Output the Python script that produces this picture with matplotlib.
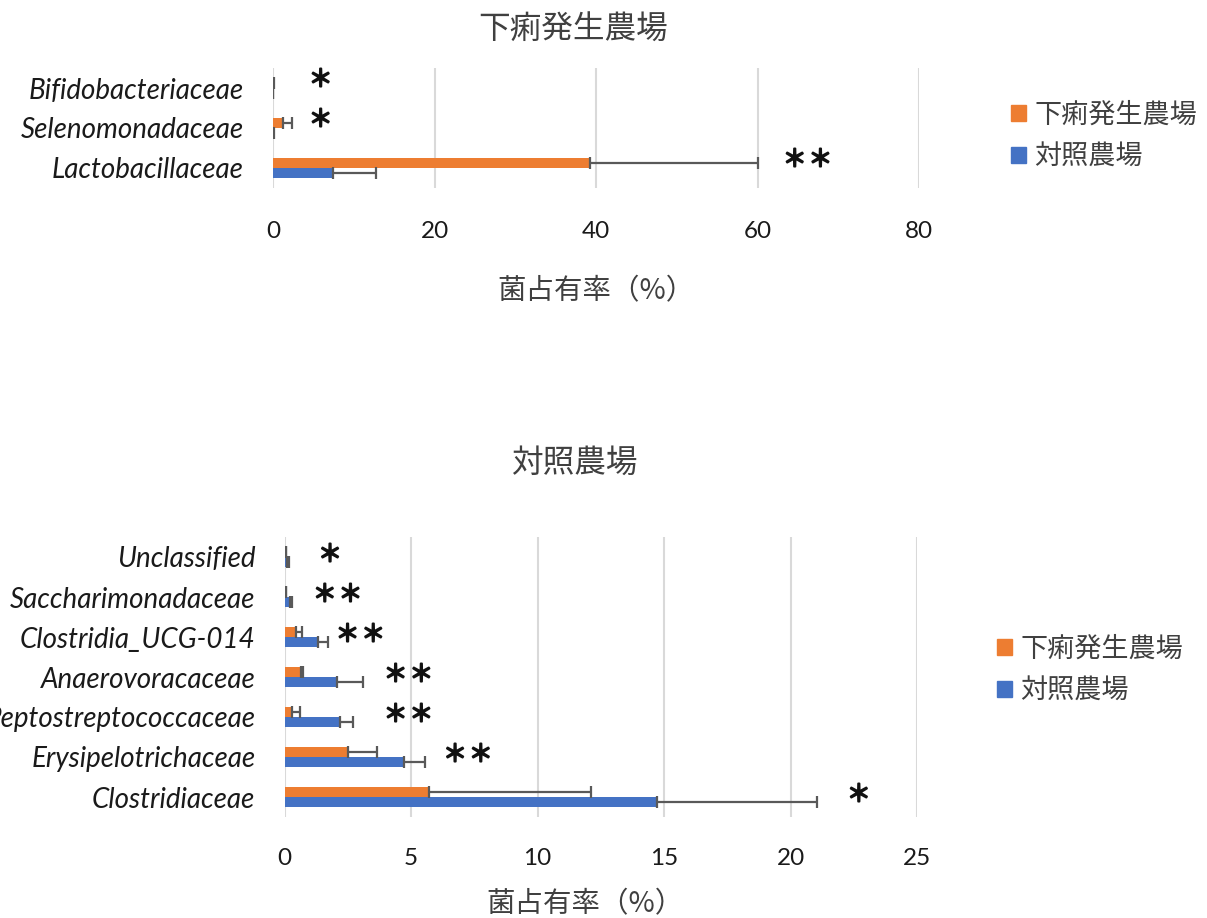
import matplotlib
matplotlib.use("Agg")
import matplotlib.pyplot as plt
import matplotlib.patheffects as pe
from matplotlib.patches import Patch
from matplotlib.transforms import offset_copy
import numpy as np

plt.rcParams['font.family'] = ['Noto Sans CJK JP', 'DejaVu Sans']

# ---- data ----
diarrhea_label = "下痢発生農場"
control_label = "対照農場"
xlabel = "菌占有率（%）"

top_cats = ["Lactobacillaceae", "Selenomonadaceae", "Bifidobacteriaceae"]
top_diarrhea = [39.3, 1.2, 0.05]
top_diarrhea_err = [20.8, 1.2, 0.05]
top_control = [7.4, 0.05, 0.02]
top_control_err = [5.4, 0.02, 0.01]
top_sig = ["**", "*", "*"]
top_sig_x = [66.2, 5.9, 5.9]
top_ticks = [0, 20, 40, 60, 80]

bot_cats = ["Clostridiaceae", "Erysipelotrichaceae", "Peptostreptococcaceae",
            "Anaerovoracaceae", "Clostridia_UCG-014", "Saccharimonadaceae",
            "Unclassified"]
bot_diarrhea = [5.7, 2.5, 0.29, 0.67, 0.45, 0.04, 0.04]
bot_diarrhea_err = [6.4, 1.16, 0.31, 0.05, 0.23, 0.03, 0.02]
bot_control = [14.73, 4.72, 2.18, 2.07, 1.34, 0.22, 0.1]
bot_control_err = [6.32, 0.84, 0.53, 1.03, 0.39, 0.08, 0.06]
bot_sig = ["*", "**", "**", "**", "**", "**", "*"]
bot_sig_x = [22.7, 7.25, 4.9, 4.9, 3.0, 2.1, 1.8]
bot_ticks = [0, 5, 10, 15, 20, 25]

ORANGE = "#ED7D31"
BLUE = "#4472C4"
GRID = "#D9D9D9"
ERR = "#595959"
TXT = "#404040"
INK = "#1a1a1a"

W, H = 1207, 918
fig = plt.figure(figsize=(W / 100, H / 100), dpi=100)


def px_axes(left, top, right, bottom):
    return fig.add_axes([left / W, 1 - bottom / H, (right - left) / W, (bottom - top) / H])


def draw_panel(ax, cats, dia, dia_err, ctl, ctl_err, sig, sig_x, ticks, sig_dy,
               label_xy, tick_pad):
    y = np.arange(len(cats))
    h = 0.25
    ek = dict(ecolor=ERR, elinewidth=1.6, capsize=4, capthick=1.6)
    ax.barh(y + h / 2, dia, height=h, color=ORANGE, zorder=2,
            xerr=[np.zeros(len(cats)), dia_err], error_kw=ek)
    ax.barh(y - h / 2, ctl, height=h, color=BLUE, zorder=2,
            xerr=[np.zeros(len(cats)), ctl_err], error_kw=ek)
    ax.set_ylim(-0.5, len(cats) - 0.5)
    ax.set_xlim(ticks[0], ticks[-1])
    ax.set_xticks(ticks)
    ax.set_xticklabels([str(t) for t in ticks], fontfamily="Lato", fontsize=17.5, color=INK)
    ax.set_yticks(y)
    ax.set_yticklabels(cats, fontfamily="Lato", style="italic", fontsize=20, color=INK)
    ax.tick_params(length=0, axis="x", pad=tick_pad)
    ax.tick_params(length=0, axis="y", pad=21)
    for s in ax.spines.values():
        s.set_visible(False)
    ax.grid(axis="x", color=GRID, linewidth=1.5, zorder=0)
    ax.set_axisbelow(True)
    # significance marks, one glyph per asterisk
    stroke = [pe.withStroke(linewidth=1.4, foreground="#111111")]
    for yi, s, sx in zip(y, sig, sig_x):
        n = len(s)
        for k in range(n):
            dx = (k - (n - 1) / 2) * 18.5
            tr = offset_copy(ax.transData, fig=fig, x=dx, y=0, units="points")
            ax.text(sx, yi + sig_dy, "＊", transform=tr, ha="center", va="center",
                    fontsize=17, color="#111111", path_effects=stroke)
    ax.set_xlabel(xlabel, fontsize=20.5, color=TXT)
    ax.xaxis.label.set_va("center")
    ax.xaxis.set_label_coords(label_xy[0] / W, 1 - label_xy[1] / H, transform=fig.transFigure)


# top panel
ax1 = px_axes(273, 68, 919, 188)
draw_panel(ax1, top_cats, top_diarrhea, top_diarrhea_err, top_control, top_control_err,
           top_sig, top_sig_x, top_ticks, 0.2, (596, 291), 24)
fig.text(573 / W, 1 - 30 / H, diarrhea_label, ha="center", va="center", fontsize=22.8, color=TXT)

# bottom panel
ax2 = px_axes(284.5, 537, 917, 817)
draw_panel(ax2, bot_cats, bot_diarrhea, bot_diarrhea_err, bot_control, bot_control_err,
           bot_sig, bot_sig_x, bot_ticks, 0.05, (585, 904), 22)
fig.text(575 / W, 1 - 463 / H, control_label, ha="center", va="center", fontsize=22.8, color=TXT)

handles = [Patch(color=ORANGE, label=diarrhea_label), Patch(color=BLUE, label=control_label)]
for anchor in [(987 / W, 1 - 136 / H), (973 / W, 1 - 670 / H)]:
    fig.legend(handles=handles, loc="center left", bbox_to_anchor=anchor, frameon=False,
               fontsize=19.5, labelcolor=TXT, handlelength=0.55, handleheight=0.55,
               handletextpad=0.3, labelspacing=0.55)

fig.savefig("out.png", dpi=100, facecolor="white")
